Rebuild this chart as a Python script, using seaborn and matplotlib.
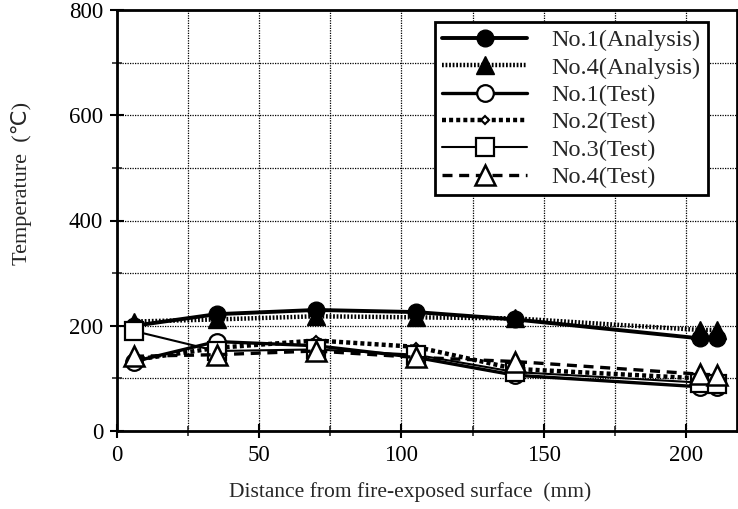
import matplotlib
matplotlib.use("Agg")
import matplotlib.pyplot as plt
import seaborn as sns
import pandas as pd
import numpy as np

# ---- data ----
distance = [6, 35, 70, 105, 140, 205, 211]
no1_analysis = [200, 222, 230, 226, 212, 176, 176]
no4_analysis = [208, 212, 218, 216, 214, 192, 192]
no1_test = [132, 170, 162, 140, 106, 84, 84]
no2_test = [135, 158, 172, 160, 118, 100, 98]
no3_test = [190, 152, 155, 145, 112, 92, 90]
no4_test = [142, 145, 152, 140, 132, 108, 106]

labels = ["No.1(Analysis)", "No.4(Analysis)", "No.1(Test)",
          "No.2(Test)", "No.3(Test)", "No.4(Test)"]
series = [no1_analysis, no4_analysis, no1_test, no2_test, no3_test, no4_test]

x_ticks = [0, 50, 100, 150, 200]
y_ticks = [0, 200, 400, 600, 800]

sns.set_style("ticks")
plt.rcParams["font.family"] = ["Liberation Serif", "DejaVu Sans"]

fig = plt.figure(figsize=(7.38, 5.09), dpi=100)
ax = fig.add_axes([117 / 738, 1 - 431 / 509, (737 - 117) / 738, (431 - 10) / 509])

styles = [
    dict(marker="o", markersize=12, markerfacecolor="black", markeredgecolor="black",
         markeredgewidth=1, linewidth=2.8, linestyle="-"),
    dict(marker="^", markersize=13, markerfacecolor="black", markeredgecolor="black",
         markeredgewidth=1, linewidth=3.2, linestyle=(0, (0.4, 0.4))),
    dict(marker="o", markersize=12, markerfacecolor="white", markeredgecolor="black",
         markeredgewidth=1.6, linewidth=2.4, linestyle="-"),
    dict(marker="D", markersize=4.5, markerfacecolor="white", markeredgecolor="black",
         markeredgewidth=1.5, linewidth=3.2, linestyle=(0, (0.9, 0.7))),
    dict(marker="s", markersize=12.5, markerfacecolor="white", markeredgecolor="black",
         markeredgewidth=1.6, linewidth=1.5, linestyle="-"),
    dict(marker="^", markersize=15, markerfacecolor="white", markeredgecolor="black",
         markeredgewidth=1.8, linewidth=2.4, linestyle=(0, (3, 2))),
]

for i in range(len(series)):
    df = pd.DataFrame({"x": distance, "y": series[i]})
    sns.lineplot(data=df, x="x", y="y", ax=ax, color="black", label=labels[i],
                 errorbar=None, sort=False, **styles[i])

ax.set_xlim(0, 218)
ax.set_ylim(0, 800)
ax.set_xticks(x_ticks)
ax.set_xticks(np.arange(0, 219, 25), minor=True)
ax.set_yticks(y_ticks)
ax.set_yticks(np.arange(0, 801, 100), minor=True)
ax.grid(True, which="both", color="black", linestyle=(0, (1, 1)), linewidth=0.9)
ax.set_axisbelow(True)

for sp in ax.spines.values():
    sp.set_linewidth(2)
    sp.set_color("black")

ax.tick_params(axis="both", which="major", direction="inout", length=10, width=1.5,
               labelsize=16.5, colors="black", pad=5)
ax.tick_params(axis="both", which="minor", direction="inout", length=7, width=1.2)
ax.tick_params(axis="x", which="major", pad=5)

ax.set_xlabel("Distance from fire-exposed surface  (mm)", fontsize=15.5)
ax.set_ylabel("Temperature  (\u2103)", fontsize=16)
ax.xaxis.set_label_coords((410 - 117) / 620, -(482 - 431) / 421)
ax.yaxis.set_label_coords(-(117 - 32) / 620, (431 - 183) / 421)

handles, labs = ax.get_legend_handles_labels()
hmap = dict(zip(labs, handles))
leg = ax.legend([hmap[l] for l in labels], labels, loc="upper left",
                bbox_to_anchor=(435 / 738, 1 - 22 / 509), bbox_transform=fig.transFigure,
                borderaxespad=0, fontsize=17.5, frameon=True, fancybox=False,
                framealpha=1, edgecolor="black", handlelength=3.5, handletextpad=1.0,
                labelspacing=0.22, borderpad=0.3)
leg.get_frame().set_linewidth(2)

fig.savefig("out.png", dpi=100)
